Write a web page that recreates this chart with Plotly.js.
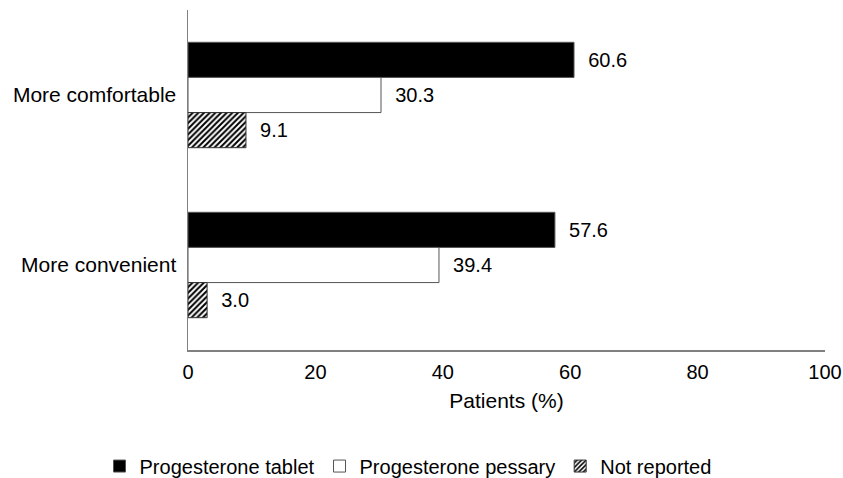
<!DOCTYPE html>
<html>
<head>
<meta charset="utf-8">
<script src="https://cdn.plot.ly/plotly-3.0.1.min.js"></script>
<style>html,body{margin:0;padding:0;background:#fff;}#chart{width:843px;height:478px;}</style>
</head>
<body>
<div id="chart"></div>
<script>
var categories = ["More comfortable", "More convenient"];
var seriesNames = ["Progesterone tablet", "Progesterone pessary", "Not reported"];
var tabletValues = [60.6, 57.6];
var pessaryValues = [30.3, 39.4];
var notReportedValues = [9.1, 3.0];
var xTickValues = [0, 20, 40, 60, 80, 100];

var FONT = "Liberation Sans, Arial, sans-serif";
var pad = "\u00a0\u00a0";

function barTrace(name, values, marker) {
  return {
    type: "bar",
    orientation: "h",
    name: name,
    y: categories,
    x: values,
    text: values.map(function (v) { return pad + v.toFixed(1); }),
    textposition: "outside",
    textfont: {family: FONT, size: 20, color: "#000"},
    constraintext: "none",
    cliponaxis: false,
    hoverinfo: "x+name",
    marker: marker
  };
}

var data = [
  barTrace(seriesNames[0], tabletValues, {color: "#000000", line: {color: "#555555", width: 1}}),
  barTrace(seriesNames[1], pessaryValues, {color: "#ffffff", line: {color: "#555555", width: 1}}),
  barTrace(seriesNames[2], notReportedValues, {
    color: "#ffffff",
    line: {color: "#333333", width: 1},
    pattern: {shape: "/", fgcolor: "#000000", bgcolor: "#ffffff", size: 4, solidity: 0.5}
  })
];

var layout = {
  width: 843,
  height: 478,
  paper_bgcolor: "#ffffff",
  plot_bgcolor: "#ffffff",
  margin: {l: 188, r: 18, t: 10, b: 128},
  barmode: "group",
  bargap: 0.38,
  bargroupgap: 0,
  font: {family: FONT, size: 20, color: "#000"},
  showlegend: true,
  legend: {
    orientation: "h",
    xref: "container",
    yref: "container",
    x: 0.484,
    xanchor: "center",
    y: 0.025,
    yanchor: "middle",
    font: {family: FONT, size: 20, color: "#000"},
    itemclick: false
  },
  xaxis: {
    range: [0, 100],
    tickvals: xTickValues,
    ticktext: xTickValues.map(String),
    showgrid: false,
    zeroline: false,
    showline: true,
    linecolor: "#808080",
    linewidth: 1.5,
    ticks: "",
    ticklabelstandoff: 3,
    tickfont: {family: FONT, size: 20, color: "#000"},
    title: {text: "Patients (%)", font: {family: FONT, size: 21, color: "#000"}, standoff: 12},
    fixedrange: true
  },
  yaxis: {
    type: "category",
    categoryorder: "array",
    categoryarray: categories,
    autorange: "reversed",
    showgrid: false,
    zeroline: false,
    showline: true,
    linecolor: "#808080",
    linewidth: 1.5,
    ticks: "",
    ticklabelstandoff: 6,
    tickfont: {family: FONT, size: 21, color: "#000"},
    fixedrange: true
  }
};

Plotly.newPlot("chart", data, layout, {displayModeBar: false, staticPlot: true});
</script>
</body>
</html>
